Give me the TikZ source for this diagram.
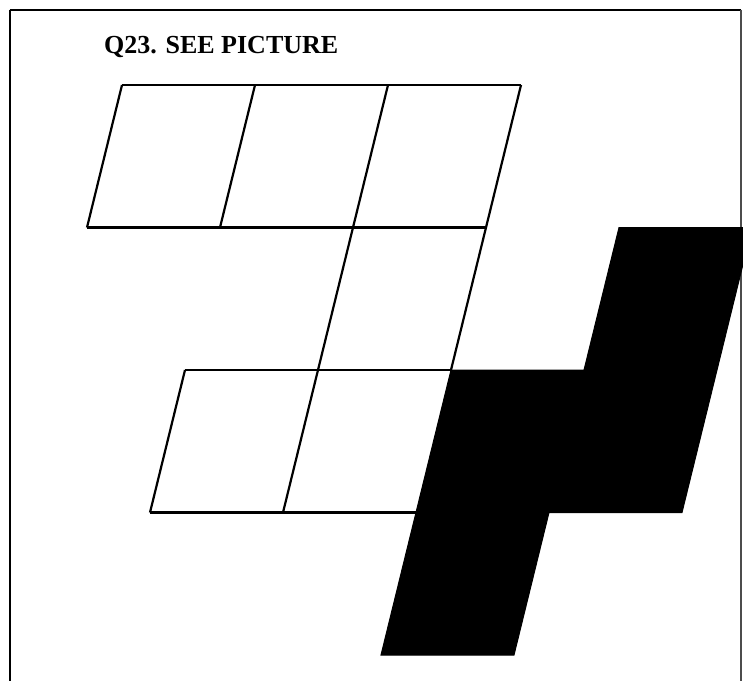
\documentclass[tikz,border=0pt]{standalone}
\usepackage{fontspec}
\setmainfont{Liberation Serif}
\begin{document}
\begin{tikzpicture}[x=1pt,y=-1pt,
  gridline/.style={line width=2.2pt,line join=miter},
  blackpart/.style={fill=black,draw=black,line width=1pt},
  framebox/.style={line width=2pt}]
\useasboundingbox (0,0) rectangle (743,680);
\clip (0,0) rectangle (743,680);
% frame
\draw[framebox] (9.5,9.5) -- (741,9.5);
\draw[framebox] (9.5,9.5) -- (9.5,690);
\draw[line width=1.4pt,black!70] (741,9.5) -- (741,690);
% title
\node[anchor=base west,inner sep=0pt,font=\fontsize{26}{30}\selectfont\bfseries] (title) at (104,53) {Q23. SEE PICTURE};
% lattice points (k,r): x = 122 + 133k - 35r, y = 85 + 142.5r
\coordinate (p00) at (122,85);   \coordinate (p10) at (255,85);
\coordinate (p20) at (388,85);   \coordinate (p30) at (521,85);
\coordinate (p01) at (87,227.5); \coordinate (p11) at (220,227.5);
\coordinate (p21) at (353,227.5);\coordinate (p31) at (486,227.5);
\coordinate (p41) at (619,227.5);\coordinate (p51) at (752,227.5);
\coordinate (p12) at (185,370);  \coordinate (p22) at (318,370);
\coordinate (p32) at (451,370);  \coordinate (p42) at (584,370);
\coordinate (p52) at (717,370);
\coordinate (p13) at (150,512.5);\coordinate (p23) at (283,512.5);
\coordinate (p33) at (416,512.5);\coordinate (p43) at (549,512.5);
\coordinate (p53) at (682,512.5);
\coordinate (p34) at (381,655);  \coordinate (p44) at (514,655);
% black shape
\fill[blackpart] (p41) -- (p51) -- (p53) -- (p43) -- (p44) -- (p34) -- (p32) -- (p42) -- cycle;
% top row
\draw[gridline] (p00) -- (p30);
\draw[gridline] (p01) -- (p31);
\draw[gridline] (p00) -- (p01);
\draw[gridline] (p10) -- (p11);
\draw[gridline] (p20) -- (p21) -- (p22) -- (p23);
\draw[gridline] (p30) -- (p31) -- (p32);
% bottom row
\draw[gridline] (p12) -- (p32);
\draw[gridline] (p13) -- (p33);
\draw[gridline] (p12) -- (p13);
\end{tikzpicture}
\end{document}
